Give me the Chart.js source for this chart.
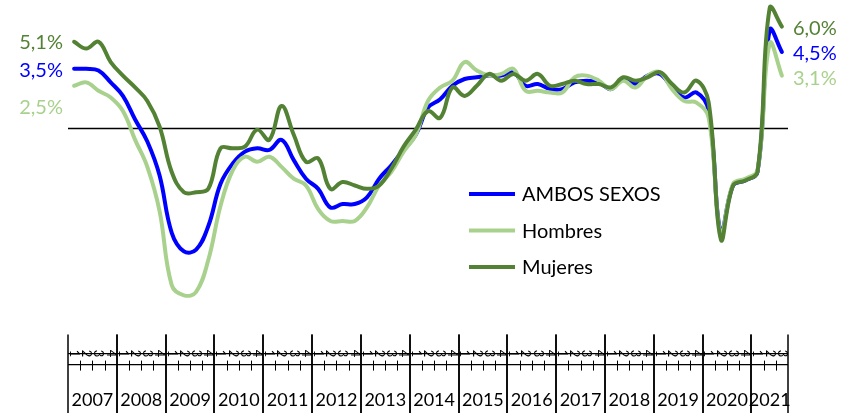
<!DOCTYPE html>
<html>
<head>
<meta charset="utf-8">
<script src="https://cdn.jsdelivr.net/npm/chart.js@4"></script>
<style>
  body { margin: 0; background: #fff; }
  #wrap { width: 852px; height: 413px; position: relative; }
</style>
</head>
<body>
<div id="wrap"><canvas id="chart"></canvas></div>
<script>
// Years and quarter tick labels
const years = ['2007', '2008', '2009', '2010', '2011', '2012', '2013', '2014',
               '2015', '2016', '2017', '2018', '2019', '2020', '2021'];
const quarterLabels = ['1', '2', '3', '4'];

// 2007Q1 .. 2021Q3
const categories = [];
years.forEach(yr => quarterLabels.forEach(q => categories.push(yr + '-' + q)));
categories.length = 59;

// Year-on-year change (%)
const ambos = [3.5, 3.5, 3.4, 2.7, 1.9, 0.5, -0.8, -2.8, -6.2, -7.3, -7.2, -5.8,
  -3.3, -2.1, -1.4, -1.2, -1.3, -0.7, -1.9, -3.0, -3.6, -4.7, -4.5, -4.5,
  -4.1, -3.0, -2.2, -1.3, -0.4, 1.2, 1.7, 2.5, 2.9, 3.0, 3.1, 3.1,
  3.3, 2.5, 2.6, 2.3, 2.3, 2.7, 2.8, 2.7, 2.3, 2.9, 2.6, 3.1,
  3.2, 2.4, 1.8, 2.1, 1.0, -6.2, -3.4, -3.1, -2.6, 5.8, 4.5];

const hombres = [2.5, 2.7, 2.2, 1.8, 1.0, -0.7, -2.3, -4.9, -9.3, -9.9, -9.7, -7.8,
  -4.6, -2.5, -1.7, -2.0, -1.7, -2.3, -3.0, -3.4, -4.8, -5.5, -5.5, -5.5,
  -4.7, -3.4, -2.6, -1.4, -0.4, 1.6, 2.4, 2.8, 3.9, 3.4, 3.1, 3.2,
  3.5, 2.2, 2.2, 2.1, 2.1, 3.0, 3.1, 2.8, 2.3, 2.8, 2.4, 3.1,
  3.3, 2.3, 1.6, 1.5, 0.6, -6.3, -3.3, -3.0, -2.5, 5.0, 3.1];

const mujeres = [5.1, 4.7, 5.1, 3.9, 3.1, 2.4, 1.6, 0.1, -2.6, -3.8, -3.8, -3.6,
  -1.2, -1.2, -1.1, -0.1, -0.7, 1.3, -0.4, -2.0, -1.8, -3.6, -3.2, -3.4,
  -3.6, -3.4, -2.4, -1.1, -0.1, 1.0, 0.6, 2.4, 1.9, 2.5, 3.2, 2.8,
  3.2, 2.8, 3.2, 2.5, 2.6, 2.8, 2.6, 2.6, 2.4, 3.0, 2.8, 3.0,
  3.3, 2.6, 2.1, 2.8, 1.5, -6.6, -3.4, -3.1, -2.6, 7.1, 6.0];

const colorAmbos = '#0000ff';
const colorHombres = '#a9d18e';
const colorMujeres = '#548235';
const fontFamily = "Lato, 'Open Sans', sans-serif";

const fmt = v => v.toFixed(1).replace('.', ',') + '%';

// Zero line, axis blocks, legend and end labels
const decorations = {
    id: 'decorations',
    beforeDatasetsDraw(chart) {
        const { ctx, chartArea, scales: { y } } = chart;
        const y0 = Math.round(y.getPixelForValue(0)) + 0.5;
        ctx.save();
        ctx.strokeStyle = '#000';
        ctx.lineWidth = 1.5;
        ctx.beginPath();
        ctx.moveTo(chartArea.left, y0);
        ctx.lineTo(chartArea.right, y0);
        ctx.stroke();
        ctx.restore();
    },
    afterDraw(chart) {
        const { ctx, chartArea, scales: { x, y } } = chart;
        const half = (x.getPixelForValue(1) - x.getPixelForValue(0)) / 2;
        const base = chartArea.bottom;
        const n = categories.length;

        ctx.save();
        ctx.strokeStyle = '#000';
        ctx.fillStyle = '#000';
        ctx.lineWidth = 1.3;

        // two horizontal axis lines
        [base - 11, base].forEach(yy => {
            ctx.beginPath();
            ctx.moveTo(chartArea.left, yy);
            ctx.lineTo(chartArea.right, yy);
            ctx.stroke();
        });

        // quarter boundary ticks and rotated quarter labels
        ctx.lineWidth = 1;
        ctx.font = '13px ' + fontFamily;
        ctx.textAlign = 'center';
        ctx.textBaseline = 'middle';
        for (let i = 0; i < n; i++) {
            const px = x.getPixelForValue(i);
            if (i % 4 !== 0) {
                const bx = Math.round(px - half) + 0.5;
                ctx.beginPath();
                ctx.moveTo(bx, base - 4);
                ctx.lineTo(bx, base + 6);
                ctx.stroke();
            }
            ctx.save();
            ctx.translate(px, base - 11);
            ctx.rotate(Math.PI / 2);
            ctx.fillText(quarterLabels[i % 4], 0, 0);
            ctx.restore();
        }

        // year separators and labels
        ctx.lineWidth = 1.5;
        ctx.font = '18px ' + fontFamily;
        years.forEach((yr, k) => {
            const first = 4 * k;
            const last = Math.min(first + 3, n - 1);
            const left = x.getPixelForValue(first) - half;
            const right = x.getPixelForValue(last) + half;
            [left, right].forEach(bx => {
                ctx.beginPath();
                ctx.moveTo(Math.round(bx), base - 30);
                ctx.lineTo(Math.round(bx), chart.height);
                ctx.stroke();
            });
            ctx.fillText(yr, (left + right) / 2, base + 36);
        });

        // legend inside the plot
        const legendX = 469, legendY = 194, rowGap = 36.5;
        ctx.font = '20px ' + fontFamily;
        ctx.textAlign = 'left';
        chart.data.datasets.forEach((ds, i) => {
            const ly = legendY + i * rowGap;
            ctx.strokeStyle = ds.borderColor;
            ctx.lineWidth = 4;
            ctx.beginPath();
            ctx.moveTo(legendX, ly);
            ctx.lineTo(legendX + 46, ly);
            ctx.stroke();
            ctx.fillStyle = '#000';
            ctx.fillText(ds.label, legendX + 53, ly + 1);
        });

        // first and last value labels
        const startShift = [2, 22, 1];
        const endShift = [2, 2.5, 1.5];
        ctx.font = '20px ' + fontFamily;
        chart.data.datasets.forEach((ds, i) => {
            const first = ds.data[0];
            const last = ds.data[ds.data.length - 1];
            ctx.fillStyle = ds.borderColor;
            ctx.textAlign = 'right';
            ctx.fillText(fmt(first), chartArea.left - 5, y.getPixelForValue(first) + startShift[i]);
            ctx.textAlign = 'left';
            ctx.fillText(fmt(last), x.getPixelForValue(n - 1) + 11, y.getPixelForValue(last) + endShift[i]);
        });
        ctx.restore();
    }
};

const ctx = document.getElementById('chart').getContext('2d');
new Chart(ctx, {
    type: 'line',
    data: {
        labels: categories,
        datasets: [
            { label: 'AMBOS SEXOS', data: ambos, borderColor: colorAmbos, order: 3 },
            { label: 'Hombres', data: hombres, borderColor: colorHombres, order: 2 },
            { label: 'Mujeres', data: mujeres, borderColor: colorMujeres, order: 1 }
        ]
    },
    options: {
        responsive: true,
        maintainAspectRatio: false,
        animation: false,
        layout: { padding: { left: 68, right: 64, top: 1.25, bottom: 48.4 } },
        elements: {
            line: { borderWidth: 4, tension: 0.4, fill: false, borderCapStyle: 'round' },
            point: { radius: 0 }
        },
        datasets: { line: { clip: false } },
        scales: {
            x: { display: false, offset: true },
            y: { display: false, min: -14, max: 7.5 }
        },
        plugins: {
            legend: { display: false },
            tooltip: { enabled: false }
        }
    },
    plugins: [decorations]
});
</script>
</body>
</html>
